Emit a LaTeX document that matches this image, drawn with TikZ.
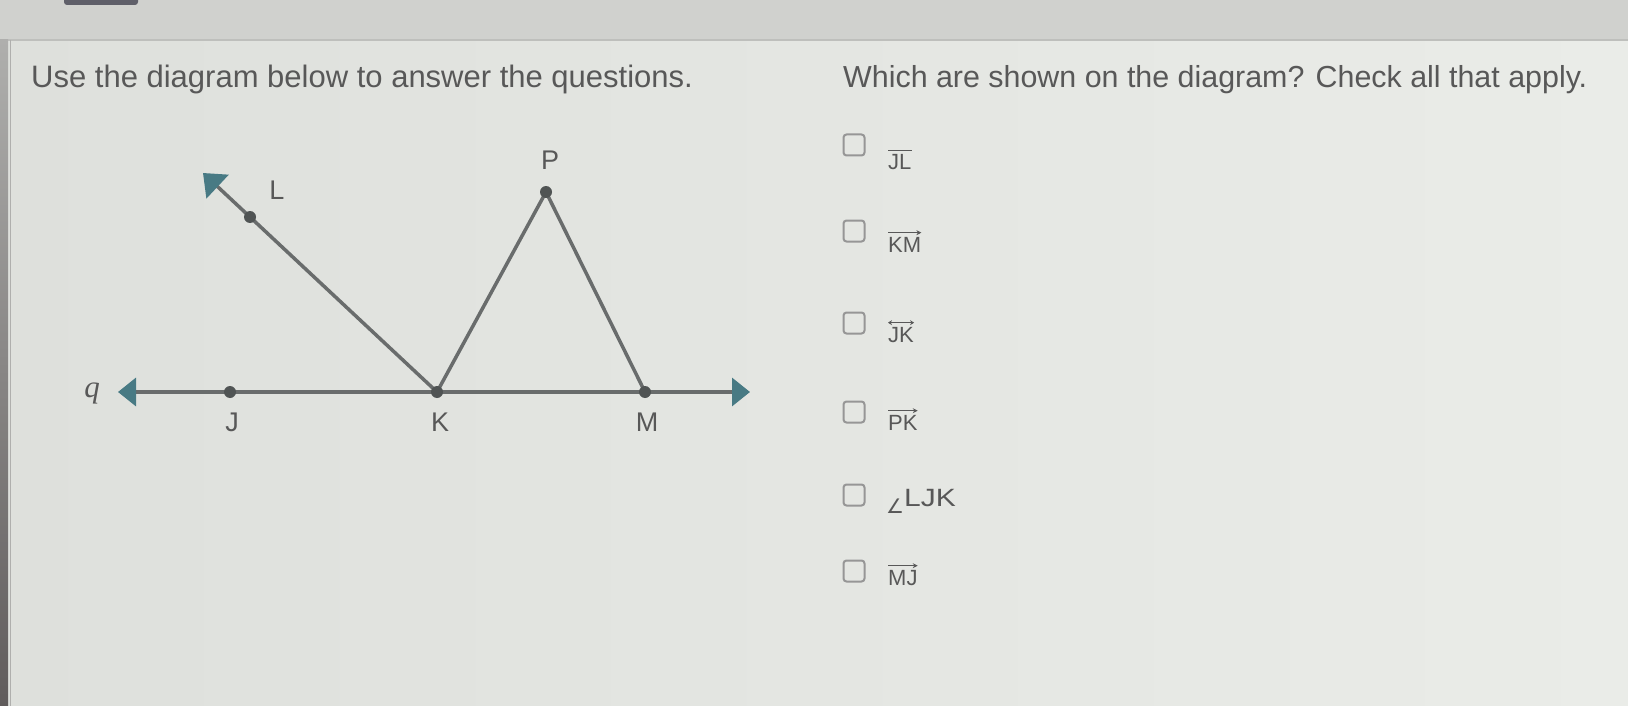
\documentclass[tikz,border=0pt]{standalone}
\usepackage{fontspec}
\setmainfont{Liberation Sans}
\newfontfamily\serifit{Liberation Serif}
\newfontfamily\djv{DejaVu Sans}
\usetikzlibrary{arrows.meta}
\definecolor{bgL}{RGB}{222,224,220}
\definecolor{bgR}{RGB}{234,236,232}
\definecolor{topbar}{RGB}{208,209,206}
\definecolor{topline}{RGB}{190,191,188}
\definecolor{txt}{RGB}{88,88,88}
\definecolor{geo}{RGB}{105,108,108}
\definecolor{dotc}{RGB}{80,84,84}
\definecolor{tealc}{RGB}{72,122,132}
\definecolor{boxc}{RGB}{150,150,150}
\definecolor{edgeD}{RGB}{96,92,92}
\definecolor{edgeL}{RGB}{175,175,173}
\definecolor{blob}{RGB}{95,95,105}
\begin{document}
\begin{tikzpicture}[x=1pt,y=-1pt,
  heading/.style={font=\fontsize{31}{31}\selectfont, text=txt, anchor=base west, inner sep=0pt},
  ptlabel/.style={font=\fontsize{27}{27}\selectfont, text=txt, inner sep=0pt},
  optlab/.style={font=\fontsize{22}{22}\selectfont, text=txt, anchor=base west, inner sep=0pt},
  chk/.style={draw=boxc, line width=2pt, rounded corners=3pt, minimum size=21pt, inner sep=0pt},
  geoline/.style={draw=geo, line width=3.5pt},
  tealtip/.tip={Triangle[length=18pt,width=28pt,color=tealc,fill=tealc]},
  raytip/.tip={Triangle[length=20pt,width=32pt,color=tealc,fill=tealc]},
  bar/.style={draw=txt, line width=1.3pt},
  vec/.style={draw=txt, line width=1.3pt, -{Stealth[length=5pt,width=5pt]}},
  dvec/.style={draw=txt, line width=1.3pt, {Stealth[length=4pt,width=5pt]}-{Stealth[length=4pt,width=5pt]}}]
\useasboundingbox (0,0) rectangle (1628,706);
% background
\shade[left color=bgL, right color=bgR] (0,0) rectangle (1628,706);
\fill[topbar] (0,0) rectangle (1628,40);
\draw[topline, line width=1.5pt] (0,40) -- (1628,40);
\fill[blob, rounded corners=3pt] (64,-6) rectangle (138,5);
\shade[top color=edgeL, bottom color=edgeD] (0,40) rectangle (8,706);
\draw[edgeL, line width=1pt] (10,40) -- (10,706);
% headings
\node[heading] (h1) at (31,88) {Use the diagram below to answer the questions.};
\node[heading, font=\fontsize{30.4}{30.4}\selectfont] (h2) at (843,88) {Which are shown on the diagram? Check all that apply.};
% diagram points
\coordinate (J) at (230,392);
\coordinate (K) at (437,392);
\coordinate (M) at (645,392);
\coordinate (P) at (546,192);
\coordinate (L) at (250,217);
\coordinate (Ltip) at (203,173);
\coordinate (qL) at (118,392);
\coordinate (qR) at (750,392);
% lines
\draw[geoline, tealtip-tealtip] (qL) -- (qR);
\draw[geoline, -raytip] (K) -- (Ltip);
\draw[geoline] (K) -- (P) -- (M);
% dots
\foreach \p in {J,K,M,P,L} \fill[dotc] (\p) circle (6pt);
% point labels
\node[ptlabel] (lP) at (550,160) {P};
\node[ptlabel] (lL) at (277,190) {L};
\node[ptlabel] (lJ) at (232,422) {J};
\node[ptlabel] (lK) at (440,422) {K};
\node[ptlabel] (lM) at (647,422) {M};
\node[font=\serifit\itshape\fontsize{31}{31}\selectfont, text=txt, inner sep=0pt, anchor=base] (lq) at (92,397) {q};
% checkboxes
\node[chk] (c1) at (854,145) {};
\node[chk] (c2) at (854,231) {};
\node[chk] (c3) at (854,323) {};
\node[chk] (c4) at (854,412) {};
\node[chk] (c5) at (854,495) {};
\node[chk] (c6) at (854,571) {};
% options
\node[optlab] (o1) at (888,170) {JL};
\draw[bar] ([yshift=4pt]o1.north west) -- ([yshift=4pt]o1.north east);
\node[optlab] (o2) at (888,252) {KM};
\draw[vec] ([yshift=4pt]o2.north west) -- ([yshift=4pt]o2.north east);
\node[optlab] (o3) at (888,342) {JK};
\draw[dvec] ([yshift=4pt]o3.north west) -- ([yshift=4pt]o3.north east);
\node[optlab] (o4) at (888,430) {PK};
\draw[vec] ([yshift=4pt]o4.north west) -- ([yshift=4pt]o4.north east);
\node[optlab, font=\djv\fontsize{20}{20}\selectfont] (o5a) at (886,513) {∠};
\node[optlab, font=\fontsize{25}{25}\selectfont] (o5) at (904,506) {\scalebox{1.2}[1]{LJK}};
\node[optlab] (o6) at (888,585) {MJ};
\draw[vec] ([yshift=4pt]o6.north west) -- ([yshift=4pt]o6.north east);
\end{tikzpicture}
\end{document}
